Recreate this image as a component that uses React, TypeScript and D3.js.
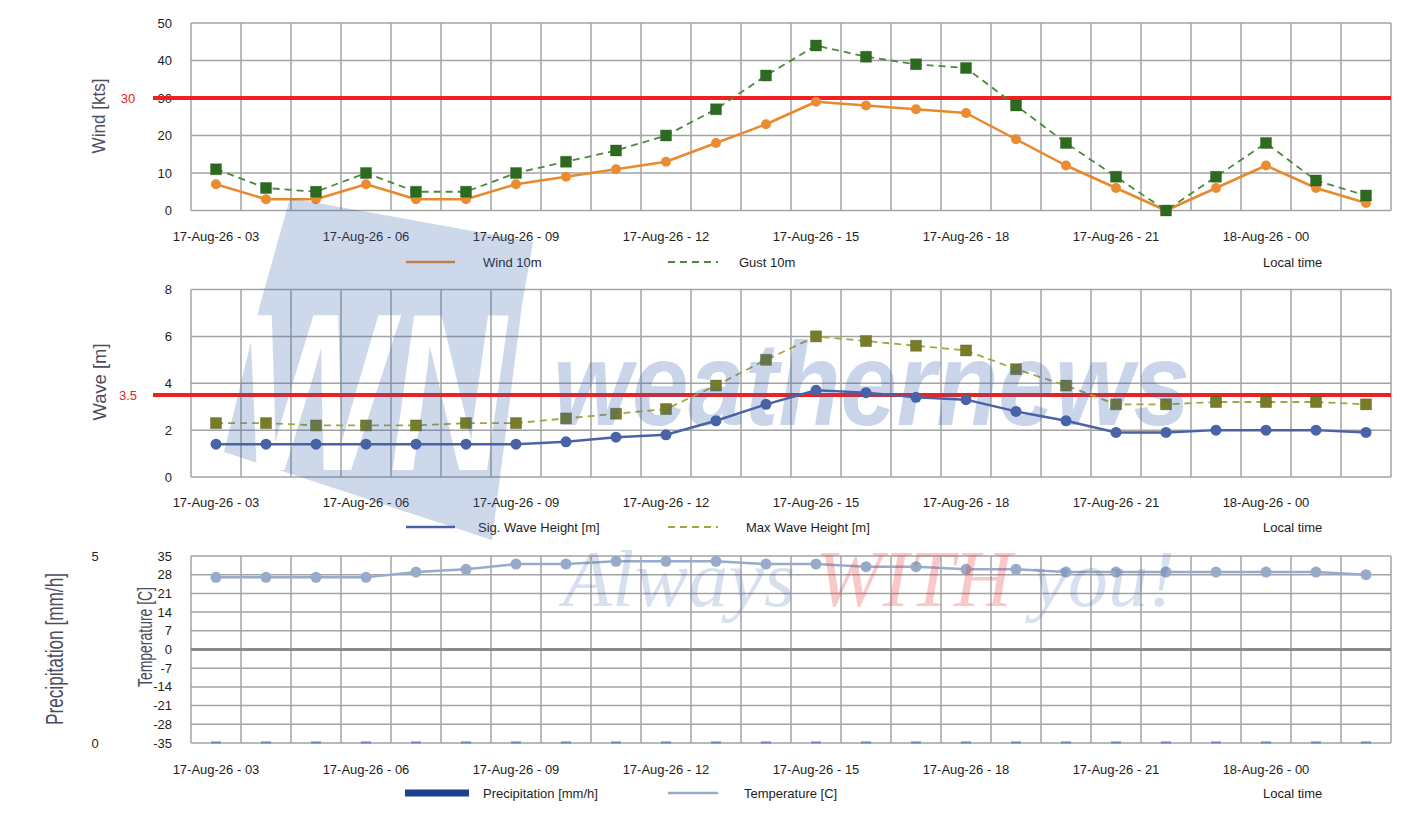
import React from 'react';
import * as d3 from 'd3';

// Hourly forecast steps (local time)
const hours = [
  '17-Aug-26 - 03', '17-Aug-26 - 04', '17-Aug-26 - 05', '17-Aug-26 - 06',
  '17-Aug-26 - 07', '17-Aug-26 - 08', '17-Aug-26 - 09', '17-Aug-26 - 10',
  '17-Aug-26 - 11', '17-Aug-26 - 12', '17-Aug-26 - 13', '17-Aug-26 - 14',
  '17-Aug-26 - 15', '17-Aug-26 - 16', '17-Aug-26 - 17', '17-Aug-26 - 18',
  '17-Aug-26 - 19', '17-Aug-26 - 20', '17-Aug-26 - 21', '17-Aug-26 - 22',
  '17-Aug-26 - 23', '18-Aug-26 - 00', '18-Aug-26 - 01', '18-Aug-26 - 02',
];
const tickLabels = [
  '17-Aug-26 - 03', '17-Aug-26 - 06', '17-Aug-26 - 09', '17-Aug-26 - 12',
  '17-Aug-26 - 15', '17-Aug-26 - 18', '17-Aug-26 - 21', '18-Aug-26 - 00',
];

const wind10m = [7, 3, 3, 7, 3, 3, 7, 9, 11, 13, 18, 23, 29, 28, 27, 26, 19, 12, 6, 0, 6, 12, 6, 2];
const gust10m = [11, 6, 5, 10, 5, 5, 10, 13, 16, 20, 27, 36, 44, 41, 39, 38, 28, 18, 9, 0, 9, 18, 8, 4];
const sigWave = [1.4, 1.4, 1.4, 1.4, 1.4, 1.4, 1.4, 1.5, 1.7, 1.8, 2.4, 3.1, 3.7, 3.6, 3.4, 3.3, 2.8, 2.4, 1.9, 1.9, 2.0, 2.0, 2.0, 1.9];
const maxWave = [2.3, 2.3, 2.2, 2.2, 2.2, 2.3, 2.3, 2.5, 2.7, 2.9, 3.9, 5.0, 6.0, 5.8, 5.6, 5.4, 4.6, 3.9, 3.1, 3.1, 3.2, 3.2, 3.2, 3.1];
const temperature = [27, 27, 27, 27, 29, 30, 32, 32, 33, 33, 33, 32, 32, 31, 31, 30, 30, 29, 29, 29, 29, 29, 29, 28];
const precipitation = [0, 0, 0, 0, 0, 0, 0, 0, 0, 0, 0, 0, 0, 0, 0, 0, 0, 0, 0, 0, 0, 0, 0, 0];

const windTicks = [0, 10, 20, 30, 40, 50];
const waveTicks = [0, 2, 4, 6, 8];
const tempTicks = [-35, -28, -21, -14, -7, 0, 7, 14, 21, 28, 35];
const precipTicks = [0, 5];
const windLimit = 30;
const waveLimit = 3.5;

const FONT = '"Liberation Sans", Arial, sans-serif';
const GRID = '#a3a3a3';
const LABEL = '#4c4c60';

const x = d3.scaleBand<string>().domain(hours).range([191, 1391]).padding(0);
const cx = (h: string) => (x(h) ?? 0) + x.bandwidth() / 2;

type Series = {
  values: number[];
  color: string;
  marker: 'circle' | 'square';
  markerColor: string;
  dash?: string;
  width: number;
  size: number;
};

function Grid({ y, ticks }: { y: d3.ScaleLinear<number, number>; ticks: number[] }) {
  const [y0, y1] = y.range();
  return (
    <g>
      {hours.map(h => (
        <line key={h} x1={x(h)} x2={x(h)} y1={y0} y2={y1} stroke={GRID} strokeWidth={1.5} />
      ))}
      <line x1={1391} x2={1391} y1={y0} y2={y1} stroke={GRID} strokeWidth={1.5} />
      {ticks.map(t => (
        <line key={t} x1={191} x2={1391} y1={y(t)} y2={y(t)} stroke={GRID} strokeWidth={1.5} />
      ))}
      {ticks.map(t => (
        <text key={'l' + t} x={172} y={y(t)} dy="0.35em" textAnchor="end" fontSize={13} fill="#1e1e1e">{t}</text>
      ))}
    </g>
  );
}

function XAxis({ y }: { y: number }) {
  return (
    <g>
      {tickLabels.map(t => (
        <text key={t} x={cx(t)} y={y} textAnchor="middle" fontSize={13} fill="#1e1e1e">{t}</text>
      ))}
    </g>
  );
}

function Line({ s, y }: { s: Series; y: d3.ScaleLinear<number, number> }) {
  const line = d3.line<number>().x((_, i) => cx(hours[i])).y(d => y(d));
  return (
    <g>
      <path d={line(s.values) ?? ''} fill="none" stroke={s.color} strokeWidth={s.width}
        strokeDasharray={s.dash} strokeLinejoin="round" />
      {s.values.map((v, i) => s.marker === 'circle'
        ? <circle key={i} cx={cx(hours[i])} cy={y(v)} r={s.size} fill={s.markerColor} />
        : <rect key={i} x={cx(hours[i]) - s.size} y={y(v) - s.size} width={s.size * 2} height={s.size * 2}
            fill={s.markerColor} stroke="#1f4a16" strokeOpacity={0.3} />)}
    </g>
  );
}

function Limit({ y, value, label }: { y: d3.ScaleLinear<number, number>; value: number; label: string }) {
  return (
    <g>
      <line x1={153} x2={1391} y1={y(value)} y2={y(value)} stroke="#ee2020" strokeWidth={4} />
      <text x={128} y={y(value)} dy="0.35em" textAnchor="middle" fontSize={13} fill="#e82020">{label}</text>
    </g>
  );
}

function YLabel({ text, x: lx, y: ly, size, length }: { text: string; x: number; y: number; size: number; length: number }) {
  return (
    <text transform={`translate(${lx},${ly}) rotate(-90)`} textAnchor="middle" dy="0.35em" fontSize={size}
      fill={LABEL} textLength={length} lengthAdjust="spacingAndGlyphs">{text}</text>
  );
}

function Legend({ y, items }: { y: number; items: { label: string; color: string; dash?: string; width: number; x1: number; x2: number; tx: number }[] }) {
  return (
    <g>
      {items.map(it => (
        <g key={it.label}>
          <line x1={it.x1} x2={it.x2} y1={y} y2={y} stroke={it.color} strokeWidth={it.width} strokeDasharray={it.dash} />
          <text x={it.tx} y={y} dy="0.35em" fontSize={13} fill="#1e1e1e">{it.label}</text>
        </g>
      ))}
      <text x={1263} y={y} dy="0.35em" fontSize={13} fill="#1e1e1e">Local time</text>
    </g>
  );
}

export default function App() {
  const yWind = d3.scaleLinear().domain([0, 50]).range([210.5, 23]);
  const yWave = d3.scaleLinear().domain([0, 8]).range([477, 289.5]);
  const yTemp = d3.scaleLinear().domain([-35, 35]).range([743, 556]);
  const yPrec = d3.scaleLinear().domain([0, 5]).range([743, 556]);

  const windS: Series = { values: wind10m, color: '#e8892c', marker: 'circle', markerColor: '#ea8c32', width: 2.5, size: 5 };
  const gustS: Series = { values: gust10m, color: '#4b8a3c', marker: 'square', markerColor: '#2c6a1f', dash: '7,5', width: 1.8, size: 5.5 };
  const sigS: Series = { values: sigWave, color: '#4a63a6', marker: 'circle', markerColor: '#4a63a6', width: 2.5, size: 5.5 };
  const maxS: Series = { values: maxWave, color: '#a5a53c', marker: 'square', markerColor: '#7a7b26', dash: '7,5', width: 1.8, size: 5.5 };
  const tempS: Series = { values: temperature, color: '#98abcb', marker: 'circle', markerColor: '#97aac8', width: 2.5, size: 5.5 };

  return (
    <svg width={1420} height={820} style={{ position: 'absolute', left: 0, top: 0, fontFamily: FONT }}>
      <defs>
        <mask id="wnMask">
          <rect x={0} y={0} width={1420} height={820} fill="white" />
          <text x={238} y={470} fontSize={225} fontWeight="bold" fontStyle="italic" fill="black"
            textLength={268} lengthAdjust="spacingAndGlyphs">WN</text>
        </mask>
      </defs>
      <rect width={1420} height={820} fill="white" />

      {/* Wind panel */}
      <Grid y={yWind} ticks={windTicks} />
      <Limit y={yWind} value={windLimit} label="30" />
      <Line s={windS} y={yWind} />
      <Line s={gustS} y={yWind} />
      <XAxis y={241} />
      <YLabel text="Wind [kts]" x={99} y={116} size={18} length={75} />
      <Legend y={262} items={[
        { label: 'Wind 10m', color: '#e8892c', width: 2.5, x1: 406, x2: 455, tx: 483 },
        { label: 'Gust 10m', color: '#4b8a3c', dash: '7,5', width: 2, x1: 668, x2: 718, tx: 739 },
      ]} />

      {/* Wave panel */}
      <Grid y={yWave} ticks={waveTicks} />
      <Limit y={yWave} value={waveLimit} label="3.5" />
      <Line s={maxS} y={yWave} />
      <Line s={sigS} y={yWave} />
      <XAxis y={507} />
      <YLabel text="Wave [m]" x={100} y={382} size={18} length={77} />
      <Legend y={527} items={[
        { label: 'Sig. Wave Height [m]', color: '#4a63a6', width: 2.5, x1: 406, x2: 455, tx: 478 },
        { label: 'Max Wave Height [m]', color: '#a5a53c', dash: '7,5', width: 2, x1: 668, x2: 718, tx: 746 },
      ]} />

      {/* Precipitation / temperature panel */}
      <Grid y={yTemp} ticks={tempTicks} />
      <line x1={191} x2={1391} y1={yTemp(0)} y2={yTemp(0)} stroke="#8a8a8a" strokeWidth={3} />
      {precipTicks.map(t => (
        <text key={t} x={95} y={yPrec(t)} dy="0.35em" textAnchor="middle" fontSize={13} fill="#1e1e1e">{t}</text>
      ))}
      {precipitation.map((v, i) => (
        <rect key={i} x={cx(hours[i]) - 5} y={yPrec(v) - 1.5} width={10} height={Math.max(2, yPrec(0) - yPrec(v))} fill="#6a86c6" />
      ))}
      <Line s={tempS} y={yTemp} />
      <XAxis y={774} />
      <YLabel text="Precipitation [mm/h]" x={55} y={649} size={23} length={152} />
      <YLabel text="Temperature [C]" x={145} y={637} size={21} length={100} />
      <Legend y={793} items={[
        { label: 'Precipitation [mm/h]', color: '#1f3f8f', width: 7, x1: 405, x2: 469, tx: 483 },
        { label: 'Temperature [C]', color: '#98abcb', width: 2.5, x1: 668, x2: 718, tx: 744 },
      ]} />

      {/* Watermark */}
      <g pointerEvents="none">
        <polygon points="290,198 533,242 522,305 492,540 224,452 260,305" fill="#3a64b0" fillOpacity={0.25} mask="url(#wnMask)" />
        <text x={553} y={425} fontSize={118} fontWeight="bold" fontStyle="italic" fill="#3a64b0" fillOpacity={0.27}
          textLength={637} lengthAdjust="spacingAndGlyphs">weathernews</text>
        <text x={563} y={606} fontSize={80} fontStyle="italic" fontFamily='"Liberation Serif", "Times New Roman", serif'
          textLength={612} lengthAdjust="spacingAndGlyphs">
          <tspan fill="#3a64b0" fillOpacity={0.2}>Always </tspan>
          <tspan fill="#e83a3a" fillOpacity={0.28}>WITH </tspan>
          <tspan fill="#3a64b0" fillOpacity={0.2}>you!</tspan>
        </text>
      </g>
    </svg>
  );
}
